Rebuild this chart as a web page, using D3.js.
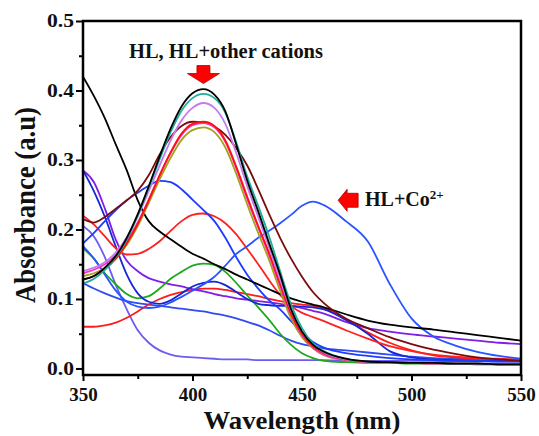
<!DOCTYPE html>
<html>
<head>
<meta charset="utf-8">
<script src="https://cdn.jsdelivr.net/npm/d3@7"></script>
<style>
  html, body { margin: 0; padding: 0; background: #fff; }
  svg { display: block; }
</style>
</head>
<body>
<svg id="chart" width="539" height="436"></svg>
<script>
// ---------- DATA ----------
const wavelengths = [350,355,360,365,370,375,380,385,390,395,400,405,410,415,420,425,430,435,440,445,450,455,460,470,480,490,500,510,520,530,540,550];

const hlBlack   = [.128,.133,.145,.162,.188,.222,.262,.305,.345,.377,.396,.402,.394,.370,.322,.270,.226,.180,.135,.085,.053,.034,.024,.014,.010,.009,.008,.008,.007,.007,.006,.006];
const hlTeal    = [.122,.129,.142,.160,.186,.220,.260,.301,.340,.371,.389,.395,.389,.368,.325,.276,.234,.190,.140,.092,.058,.036,.025,.014,.010,.009,.008,.008,.007,.007,.006,.006];
const hlViolet  = [.140,.145,.153,.167,.189,.219,.255,.292,.328,.357,.375,.382,.375,.352,.310,.262,.218,.174,.128,.084,.053,.034,.023,.013,.010,.009,.008,.008,.007,.007,.006,.006];
const hlPink    = [.137,.142,.150,.163,.183,.210,.243,.278,.310,.336,.350,.353,.347,.326,.288,.244,.203,.163,.119,.077,.048,.030,.020,.012,.009,.008,.008,.007,.007,.006,.006,.006];
const hlRed     = [.128,.133,.143,.158,.180,.208,.242,.278,.311,.338,.352,.355,.349,.328,.290,.247,.205,.166,.122,.079,.050,.032,.022,.013,.010,.009,.008,.008,.007,.007,.006,.006];
const hlOlive   = [.133,.137,.145,.158,.178,.205,.238,.272,.303,.329,.343,.347,.340,.318,.280,.236,.195,.156,.112,.072,.045,.029,.019,.012,.009,.008,.008,.007,.007,.006,.006,.006];
const maroon    = [.215,.210,.218,.230,.242,.256,.278,.308,.333,.349,.355,.354,.348,.336,.317,.292,.258,.222,.188,.158,.132,.110,.094,.072,.058,.045,.035,.027,.021,.016,.013,.011];
const blackDecay= [.420,.392,.360,.322,.285,.242,.212,.197,.186,.175,.165,.158,.150,.143,.135,.128,.121,.114,.107,.101,.096,.092,.088,.078,.069,.063,.059,.056,.052,.048,.044,.040];
const blueA     = [.180,.195,.212,.228,.242,.253,.263,.270,.268,.258,.243,.228,.212,.188,.160,.135,.115,.098,.085,.068,.052,.038,.030,.022,.018,.015,.013,.012,.011,.011,.010,.010];
const redB      = [.220,.207,.190,.173,.164,.165,.172,.183,.198,.212,.221,.223,.219,.209,.193,.172,.150,.127,.106,.090,.080,.074,.068,.055,.043,.032,.025,.020,.017,.015,.014,.013];
const redC      = [.060,.060,.062,.066,.073,.082,.092,.100,.106,.110,.113,.115,.115,.113,.110,.107,.104,.100,.097,.094,.092,.090,.087,.070,.052,.037,.026,.019,.016,.014,.013,.012];
const green     = [.173,.158,.137,.121,.107,.101,.104,.115,.129,.139,.148,.151,.149,.139,.123,.105,.088,.070,.050,.034,.022,.015,.011,.009,.008,.008,.007,.007,.007,.007,.006,.006];
const purple    = [.285,.268,.230,.185,.155,.140,.130,.125,.121,.118,.114,.111,.107,.104,.101,.099,.097,.095,.093,.090,.087,.083,.079,.067,.058,.053,.049,.046,.043,.040,.037,.035];
const lavender  = [.205,.190,.160,.120,.085,.055,.037,.026,.020,.017,.016,.015,.014,.013,.013,.013,.012,.012,.012,.012,.012,.012,.012,.011,.011,.011,.011,.011,.010,.010,.010,.010];
const blueD     = [.285,.255,.218,.175,.135,.108,.096,.093,.098,.108,.118,.123,.125,.120,.110,.100,.093,.091,.090,.090,.089,.088,.085,.070,.050,.025,.016,.013,.012,.011,.011,.011];
const blueCo    = [.176,.158,.135,.112,.096,.089,.087,.089,.095,.103,.112,.121,.132,.148,.165,.176,.188,.198,.209,.221,.234,.240,.235,.212,.183,.122,.072,.046,.033,.024,.018,.014];
const blueE     = [.123,.115,.108,.102,.097,.094,.092,.090,.088,.086,.084,.082,.079,.076,.072,.067,.062,.055,.047,.040,.035,.032,.029,.026,.023,.020,.017,.015,.014,.013,.012,.012];

const yTicks = [0.0, 0.1, 0.2, 0.3, 0.4, 0.5];
const yMinorTicks = [0.05, 0.15, 0.25, 0.35, 0.45];
const xTicks = [350, 400, 450, 500, 550];
const xMinorTicks = [375, 425, 475, 525];

const xTitle = "Wavelength (nm)";
const yTitle = "Absorbance (a.u)";
const noteTop = "HL, HL+other cations";
const noteCo = "HL+Co";
const noteCoSup = "2+";

// ---------- STYLE ----------
const seriesList = [
  { values: lavender,   color: "#6b5cf2" },
  { values: blueE,      color: "#2f4cf0" },
  { values: redC,       color: "#ff1a1a" },
  { values: purple,     color: "#7f1fe6" },
  { values: green,      color: "#1fa81f" },
  { values: blueD,      color: "#1626d6" },
  { values: redB,       color: "#ff2020" },
  { values: blueA,      color: "#1e3cff" },
  { values: blueCo,     color: "#2a54ff" },
  { values: blackDecay, color: "#000000" },
  { values: maroon,     color: "#7b0c0c" },
  { values: hlOlive,    color: "#a3a31a" },
  { values: hlPink,     color: "#ff2fc8" },
  { values: hlRed,      color: "#ff1010" },
  { values: hlViolet,   color: "#c57cf2" },
  { values: hlTeal,     color: "#1fae9a" },
  { values: hlBlack,    color: "#000000" }
];

const W = 539, H = 436;
const m = { left: 83, right: 18, top: 21, bottom: 61 };
const serif = "'Liberation Serif','Times New Roman',serif";

const svg = d3.select("#chart");
svg.append("rect").attr("width", W).attr("height", H).attr("fill", "#fff");

const x = d3.scaleLinear().domain([350, 550]).range([m.left, W - m.right]);
const y = d3.scaleLinear().domain([-0.0094, 0.5]).range([H - m.bottom, m.top]);

svg.append("clipPath").attr("id", "plotClip")
  .append("rect")
  .attr("x", m.left).attr("y", m.top)
  .attr("width", W - m.left - m.right).attr("height", H - m.top - m.bottom);

const line = d3.line()
  .x((d, i) => x(wavelengths[i]))
  .y(d => y(d))
  .curve(d3.curveMonotoneX);

const g = svg.append("g").attr("clip-path", "url(#plotClip)");
g.selectAll("path.series")
  .data(seriesList)
  .join("path")
  .attr("class", "series")
  .attr("d", d => line(d.values))
  .attr("fill", "none")
  .attr("stroke", d => d.color)
  .attr("stroke-width", 1.8)
  .attr("stroke-linejoin", "round");

// ---------- AXES ----------
const yAxis = svg.append("g")
  .attr("transform", `translate(${m.left},0)`)
  .call(d3.axisLeft(y).tickValues(yTicks).tickFormat(d3.format(".1f")).tickSize(7).tickPadding(2));
svg.append("g")
  .attr("transform", `translate(${m.left},0)`)
  .call(d3.axisLeft(y).tickValues(yMinorTicks).tickFormat("").tickSize(4));

const xAxis = svg.append("g")
  .attr("transform", `translate(0,${H - m.bottom})`)
  .call(d3.axisBottom(x).tickValues(xTicks).tickFormat(d3.format("d")).tickSize(6).tickPadding(7));
svg.append("g")
  .attr("transform", `translate(0,${H - m.bottom})`)
  .call(d3.axisBottom(x).tickValues(xMinorTicks).tickFormat("").tickSize(4));

svg.selectAll(".domain").remove();
svg.selectAll(".tick line").attr("stroke", "#000").attr("stroke-width", 2);

yAxis.selectAll("text")
  .attr("font-family", serif).attr("font-weight", "bold")
  .attr("font-size", 18).attr("fill", "#111")
  .attr("textLength", 27).attr("lengthAdjust", "spacingAndGlyphs");
xAxis.selectAll("text")
  .attr("font-family", serif).attr("font-weight", "bold")
  .attr("font-size", 19).attr("fill", "#111");

// frame
svg.append("rect")
  .attr("x", m.left).attr("y", m.top)
  .attr("width", W - m.left - m.right).attr("height", H - m.top - m.bottom)
  .attr("fill", "none").attr("stroke", "#000").attr("stroke-width", 2.5);

// axis titles
svg.append("text")
  .attr("x", (m.left + W - m.right) / 2).attr("y", 429)
  .attr("text-anchor", "middle")
  .attr("font-family", serif).attr("font-weight", "bold").attr("font-size", 25)
  .attr("textLength", 197).attr("lengthAdjust", "spacingAndGlyphs")
  .attr("fill", "#111")
  .text(xTitle);

svg.append("text")
  .attr("transform", "translate(35,205) rotate(-90)")
  .attr("text-anchor", "middle")
  .attr("font-family", serif).attr("font-weight", "bold").attr("font-size", 30)
  .attr("textLength", 196).attr("lengthAdjust", "spacingAndGlyphs")
  .attr("fill", "#111")
  .text(yTitle);

// ---------- ANNOTATIONS ----------
svg.append("text")
  .attr("x", 129).attr("y", 58)
  .attr("font-family", serif).attr("font-weight", "bold").attr("font-size", 20)
  .attr("textLength", 194).attr("lengthAdjust", "spacingAndGlyphs")
  .attr("fill", "#111")
  .text(noteTop);

// down arrow above the HL peak
const ax = x(405), atip = y(0.41);
svg.append("path")
  .attr("d", `M${ax - 6.5},${atip - 18} L${ax + 6.5},${atip - 18} L${ax + 6.5},${atip - 10} L${ax + 16},${atip - 10} L${ax},${atip} L${ax - 16},${atip - 10} L${ax - 6.5},${atip - 10} Z`)
  .attr("fill", "#ff0000").attr("stroke", "#b00000").attr("stroke-width", 0.8);

// left arrow pointing to the Co2+ band
const bx = x(466.5), by = y(0.242);
svg.append("path")
  .attr("d", `M${bx},${by} L${bx + 9},${by - 11} L${bx + 9},${by - 7} L${bx + 20},${by - 7} L${bx + 20},${by + 7} L${bx + 9},${by + 7} L${bx + 9},${by + 11} Z`)
  .attr("fill", "#ff0000").attr("stroke", "#b00000").attr("stroke-width", 0.8);

const coText = svg.append("text")
  .attr("x", 365).attr("y", 206)
  .attr("font-family", serif).attr("font-weight", "bold").attr("font-size", 20)
  .attr("fill", "#111");
coText.append("tspan").text(noteCo);
coText.append("tspan").attr("font-size", 13).attr("dy", -7).text(noteCoSup);
</script>
</body>
</html>
